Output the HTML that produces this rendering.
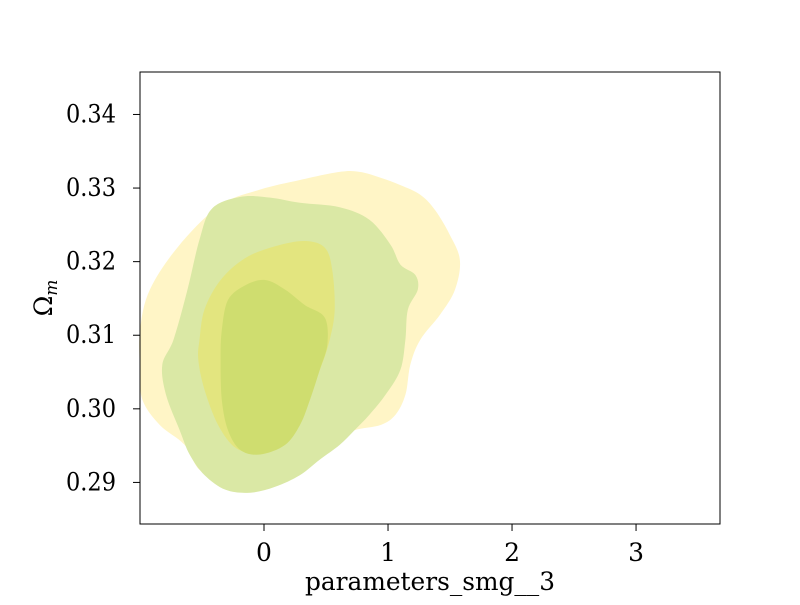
<!DOCTYPE html>
<html><head><meta charset="utf-8"><style>
body{margin:0;background:#fff;}
svg text{font-family:"DejaVu Serif","Liberation Serif",serif;fill:#000;}
</style></head><body>
<svg id="chart" width="800" height="600" viewBox="0 0 800 600" xmlns="http://www.w3.org/2000/svg">
<rect width="800" height="600" fill="#fff"/>
<g id="marks"></g>
<rect x="140" y="72" width="580" height="452" fill="none" stroke="#000" stroke-width="1"/>
<g id="axes"></g>
<text x="430" y="590" font-size="25" text-anchor="middle" textLength="250" lengthAdjust="spacingAndGlyphs">parameters_smg__3</text>
<text transform="translate(52,298) rotate(-90)" font-size="25" text-anchor="middle">Ω<tspan font-style="italic" font-size="17" dy="5">m</tspan></text>
</svg>
<script>
const xTicks=[0,1,2,3];
const yTicks=[0.29,0.30,0.31,0.32,0.33,0.34];
const yTickLabels=["0.29","0.30","0.31","0.32","0.33","0.34"];
const yellowOuter=[[-1.00,0.3107],[-0.92,0.3162],[-0.68,0.3223],[-0.35,0.3277],[-0.03,0.3298],[0.29,0.3311],[0.61,0.3322],[0.77,0.3322],[0.94,0.3314],[1.10,0.3304],[1.26,0.3291],[1.38,0.3270],[1.50,0.3236],[1.58,0.3202],[1.54,0.3162],[1.42,0.3128],[1.26,0.3094],[1.18,0.3060],[1.14,0.3019],[1.06,0.2992],[0.94,0.2978],[0.73,0.2971],[0.61,0.2958],[0.45,0.2933],[0.29,0.2914],[0.13,0.2901],[-0.07,0.2890],[-0.31,0.2897],[-0.52,0.2917],[-0.64,0.2951],[-0.84,0.2978],[-0.98,0.3012],[-1.00,0.3053]];
const tealOuter=[[-0.73,0.3094],[-0.62,0.3160],[-0.52,0.3230],[-0.42,0.3272],[-0.19,0.3288],[0.05,0.3287],[0.29,0.3280],[0.61,0.3274],[0.85,0.3257],[1.02,0.3223],[1.10,0.3196],[1.22,0.3182],[1.24,0.3162],[1.16,0.3135],[1.14,0.3094],[1.10,0.3053],[0.98,0.3019],[0.85,0.2992],[0.73,0.2971],[0.61,0.2951],[0.45,0.2931],[0.29,0.2910],[0.09,0.2894],[-0.11,0.2886],[-0.31,0.2890],[-0.48,0.2910],[-0.60,0.2938],[-0.68,0.2971],[-0.79,0.3019],[-0.82,0.3060]];
const yellowInner=[[-0.52,0.3094],[-0.48,0.3135],[-0.35,0.3175],[-0.15,0.3205],[0.09,0.3221],[0.33,0.3228],[0.49,0.3219],[0.55,0.3189],[0.57,0.3135],[0.53,0.3094],[0.45,0.3053],[0.35,0.3019],[0.25,0.2985],[0.11,0.2958],[-0.07,0.2942],[-0.23,0.2947],[-0.37,0.2978],[-0.48,0.3026],[-0.53,0.3067]];
const tealInner=[[-0.34,0.3107],[-0.29,0.3148],[-0.15,0.3168],[0.01,0.3175],[0.17,0.3162],[0.33,0.3141],[0.49,0.3124],[0.51,0.3087],[0.45,0.3053],[0.37,0.3012],[0.29,0.2978],[0.17,0.2951],[-0.03,0.2938],[-0.19,0.2944],[-0.29,0.2971],[-0.34,0.3012],[-0.35,0.3067]];

const X0=-1.0, X1=3.677, Y0=0.28435, Y1=0.34577;
function sx(v){return 140+(v-X0)/(X1-X0)*580;}
function sy(v){return 524-(v-Y0)/(Y1-Y0)*452;}
const NS="http://www.w3.org/2000/svg";
function smoothPath(pts){
  const p=pts.map(d=>[sx(d[0]),sy(d[1])]);const n=p.length;
  let s="M"+p[0][0].toFixed(1)+","+p[0][1].toFixed(1);
  for(let i=0;i<n;i++){
    const a=p[(i-1+n)%n],b=p[i],c=p[(i+1)%n],d=p[(i+2)%n];
    const c1=[b[0]+(c[0]-a[0])/6,b[1]+(c[1]-a[1])/6];
    const c2=[c[0]-(d[0]-b[0])/6,c[1]-(d[1]-b[1])/6];
    s+="C"+c1.map(v=>v.toFixed(1)).join(",")+" "+c2.map(v=>v.toFixed(1)).join(",")+" "+c[0].toFixed(1)+","+c[1].toFixed(1);
  }
  return s+"Z";
}
const marks=document.getElementById("marks");
const layers=[[yellowOuter,"#fff5c6","yellow-outer-contour"],[tealOuter,"#dae8a5","teal-outer-contour"],[yellowInner,"#e3e57f","yellow-inner-contour"],[tealInner,"#cfdd6f","teal-inner-contour"]];
layers.forEach(l=>{
  const e=document.createElementNS(NS,"path");
  e.setAttribute("d",smoothPath(l[0]));
  e.setAttribute("fill",l[1]);
  
  
  marks.appendChild(e);
});
const axes=document.getElementById("axes");
xTicks.forEach(t=>{
  const x=sx(t);
  const ln=document.createElementNS(NS,"line");
  ln.setAttribute("x1",x);ln.setAttribute("x2",x);ln.setAttribute("y1",524);ln.setAttribute("y2",531);
  ln.setAttribute("stroke","#000");
  
  
  axes.appendChild(ln);
  const tx=document.createElementNS(NS,"text");
  tx.setAttribute("x",x);tx.setAttribute("y",561);tx.setAttribute("font-size","25");tx.setAttribute("text-anchor","middle");
  tx.textContent=String(t);
  
  
  axes.appendChild(tx);
});
yTicks.forEach((t,i)=>{
  const y=sy(t);
  const ln=document.createElementNS(NS,"line");
  ln.setAttribute("x1",133);ln.setAttribute("x2",140);ln.setAttribute("y1",y);ln.setAttribute("y2",y);
  ln.setAttribute("stroke","#000");
  
  
  axes.appendChild(ln);
  const tx=document.createElementNS(NS,"text");
  tx.setAttribute("x",66);tx.setAttribute("y",y+8);tx.setAttribute("font-size","25");
  tx.setAttribute("textLength","50");tx.setAttribute("lengthAdjust","spacingAndGlyphs");
  tx.textContent=yTickLabels[i];
  
  
  axes.appendChild(tx);
});
</script>
</body></html>
